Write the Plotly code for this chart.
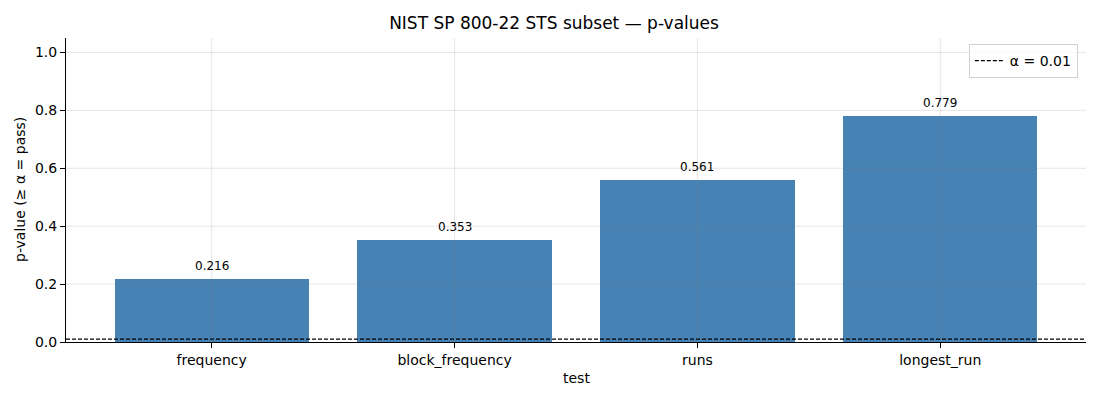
import plotly.graph_objects as go

tests = ['frequency', 'block_frequency', 'runs', 'longest_run']
p_values = [0.216, 0.353, 0.561, 0.779]
alpha = 0.01
y_ticks = [0.0, 0.2, 0.4, 0.6, 0.8, 1.0]

xs = list(range(len(tests)))
x_lo, x_hi = -0.6, len(tests) - 0.4

fig = go.Figure()
fig.add_trace(go.Bar(x=xs, y=p_values, width=0.8, marker=dict(color='#4682b4', line=dict(width=0)),
                     showlegend=False, hoverinfo='x+y'))
fig.add_trace(go.Scatter(x=[x_lo, x_hi], y=[alpha, alpha], mode='lines', name='α = 0.01',
                         line=dict(color='black', width=1.2, dash='4px,2px')))

for x, v in zip(xs, p_values):
    fig.add_annotation(x=x, y=v, text=f'{v:.3f}', showarrow=False, yanchor='bottom', yshift=4,
                       font=dict(size=12, color='black'))

# axis titles as annotations so they sit where matplotlib put them
fig.add_annotation(x=0.5, y=0, xref='paper', yref='paper', text='test', showarrow=False,
                   yanchor='middle', yshift=-36, font=dict(size=14))
fig.add_annotation(x=0, y=0.5, xref='paper', yref='paper', text='p-value (≥ α = pass)', showarrow=False,
                   textangle=-90, xanchor='center', xshift=-46, font=dict(size=14))

# grid drawn over the bars, like the original
grid = dict(color='rgba(128,128,128,0.2)', width=1)
for x in xs:
    fig.add_shape(type='line', xref='x', yref='paper', x0=x, x1=x, y0=0, y1=1, line=grid, layer='above')
for t in y_ticks[1:]:
    fig.add_shape(type='line', xref='paper', yref='y', x0=0, x1=1, y0=t, y1=t, line=grid, layer='above')

fig.update_layout(
    width=1092, height=392,
    margin=dict(l=58, r=14, t=30, b=58),
    plot_bgcolor='white', paper_bgcolor='white',
    font=dict(family='DejaVu Sans', size=14, color='black'),
    title=dict(text='NIST SP 800-22 STS subset — p-values', x=0.5, xanchor='center', y=0.962,
               yanchor='middle', font=dict(size=17)),
    legend=dict(x=0.992, y=0.98, xanchor='right', yanchor='top', bordercolor='#d0d0d0', borderwidth=1,
                bgcolor='rgba(255,255,255,0.8)', font=dict(size=14)),
    bargap=0,
)
fig.update_xaxes(range=[x_lo, x_hi], tickvals=xs, ticktext=tests, showgrid=False, zeroline=False,
                 showline=True, linecolor='black', linewidth=1, ticks='outside', ticklen=5,
                 tickcolor='black', tickfont=dict(size=14), automargin=False)
fig.update_yaxes(range=[0, 1.05], tickvals=y_ticks, tickformat='.1f', showgrid=False, zeroline=False,
                 showline=True, linecolor='black', linewidth=1, ticks='outside', ticklen=5,
                 tickcolor='black', tickfont=dict(size=14), automargin=False)

fig.write_html('out.html')
